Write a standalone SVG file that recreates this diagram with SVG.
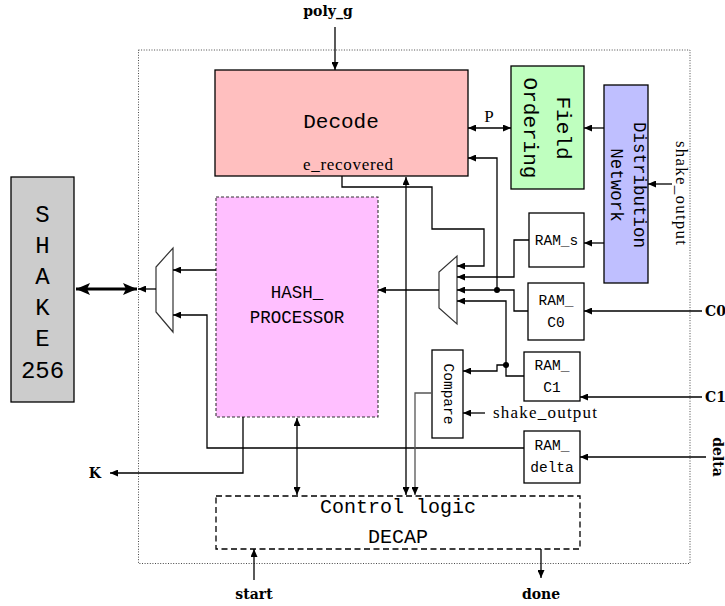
<svg xmlns="http://www.w3.org/2000/svg" width="725" height="606" viewBox="0 0 725 606">
  <style>
    .blk { stroke: #000; stroke-width: 1.3; fill: none; }
    .gry { stroke: #555; stroke-width: 1.3; fill: none; }
    .box { stroke: #000; stroke-width: 1.3; }
    .mono { font-family: "Liberation Mono", "DejaVu Sans Mono", monospace; fill: #000; }
    .ser { font-family: "Liberation Serif", "DejaVu Serif", serif; fill: #000; }
    .bold { font-family: "DejaVu Serif", "Liberation Serif", serif; font-weight: bold; fill: #000; font-size: 14px; }
    .mux { stroke: #333; stroke-width: 1.2; fill: #fff; }
  </style>
  <defs>
    <marker id="ah" markerUnits="userSpaceOnUse" markerWidth="8" markerHeight="7" refX="8" refY="3.5" orient="auto-start-reverse">
      <path d="M0,0 L8,3.5 L0,7 z" fill="#000"/>
    </marker>
    <marker id="big" markerUnits="userSpaceOnUse" markerWidth="14" markerHeight="12" refX="14" refY="6" orient="auto-start-reverse">
      <path d="M0,0 L14,6 L0,12 L3,6 z" fill="#000"/>
    </marker>
  </defs>

  <!-- enclosing decapsulation module boundary -->
  <rect x="138.5" y="50" width="551.5" height="513.5" fill="none" stroke="#333" stroke-width="0.9" stroke-dasharray="1,1.6"/>

  <g id="shake256">
    <rect x="11" y="177" width="63" height="225" fill="#cccccc" class="box"/>
    <g class="mono" font-size="24" text-anchor="middle">
      <text x="42.5" y="222">S</text>
      <text x="42.5" y="253">H</text>
      <text x="42.5" y="284">A</text>
      <text x="42.5" y="315">K</text>
      <text x="42.5" y="346">E</text>
      <text x="42.5" y="378">256</text>
    </g>
  </g>

  <g id="decode">
    <rect x="215" y="70" width="253" height="106" fill="#ffbfbf" class="box"/>
    <text x="341" y="128" class="mono" font-size="21" text-anchor="middle">Decode</text>
    <text x="348" y="170" class="ser" font-size="17" text-anchor="middle" textLength="90" lengthAdjust="spacing">e_recovered</text>
  </g>

  <g id="field-ordering">
    <rect x="511" y="66" width="73" height="123" fill="#bfffbf" class="box"/>
    <text transform="translate(557,128) rotate(90)" class="mono" font-size="21" text-anchor="middle">Field</text>
    <text transform="translate(524,128) rotate(90)" class="mono" font-size="21" text-anchor="middle">Ordering</text>
  </g>

  <g id="distribution-network">
    <rect x="604" y="85" width="44" height="198" fill="#bfbfff" class="box"/>
    <text transform="translate(634,185) rotate(90)" class="mono" font-size="17.5" text-anchor="middle">Distribution</text>
    <text transform="translate(611,185) rotate(90)" class="mono" font-size="17.5" text-anchor="middle">Network</text>
  </g>

  <g id="hash-processor">
    <rect x="216" y="197" width="162" height="220" fill="#ffbfff" stroke="#333" stroke-width="1.1" stroke-dasharray="3,2"/>
    <g class="mono" font-size="17.5" text-anchor="middle">
      <text x="297" y="298">HASH_</text>
      <text x="297" y="323">PROCESSOR</text>
    </g>
  </g>

  <g id="ram-s">
    <rect x="529" y="213" width="55" height="54" fill="#fff" class="box"/>
    <text x="556.5" y="245" class="mono" font-size="14.5" text-anchor="middle">RAM_s</text>
  </g>

  <g id="ram-c0">
    <rect x="528" y="283" width="56" height="57" fill="#fff" class="box"/>
    <g class="mono" font-size="14.5" text-anchor="middle">
      <text x="556" y="305">RAM_</text>
      <text x="556" y="327">C0</text>
    </g>
  </g>

  <g id="ram-c1">
    <rect x="524" y="352" width="56" height="49" fill="#fff" class="box"/>
    <g class="mono" font-size="14.5" text-anchor="middle">
      <text x="552" y="370">RAM_</text>
      <text x="552" y="392">C1</text>
    </g>
  </g>

  <g id="ram-delta">
    <rect x="524" y="431" width="56" height="52" fill="#fff" class="box"/>
    <g class="mono" font-size="14.5" text-anchor="middle">
      <text x="552" y="450">RAM_</text>
      <text x="552" y="472">delta</text>
    </g>
  </g>

  <g id="compare">
    <rect x="432" y="350" width="31" height="88" fill="#fff" class="box"/>
    <text transform="translate(444,394) rotate(90)" class="mono" font-size="14.5" text-anchor="middle">Compare</text>
  </g>

  <g id="control-logic">
    <rect x="216" y="496" width="364" height="53" fill="none" stroke="#000" stroke-width="1.3" stroke-dasharray="6,3.5"/>
    <g class="mono" font-size="20" text-anchor="middle">
      <text x="398" y="513">Control logic</text>
      <text x="398" y="543">DECAP</text>
    </g>
  </g>

  <g id="mux-left">
    <polygon points="173,248 173,332 156,312 156,267" class="mux"/>
  </g>

  <g id="mux-right">
    <polygon points="457,256 457,324 439,308 439,272" class="mux"/>
  </g>

  <g id="connectors">
    <!-- external inputs / outputs -->
    <line x1="335" y1="27" x2="335" y2="70" class="blk" marker-end="url(#ah)"/>
    <line x1="702" y1="311" x2="584" y2="311" class="blk" marker-end="url(#ah)"/>
    <line x1="702" y1="397" x2="580" y2="397" class="blk" marker-end="url(#ah)"/>
    <line x1="706" y1="457" x2="580" y2="457" class="blk" marker-end="url(#ah)"/>
    <line x1="672" y1="184" x2="648" y2="184" class="blk" marker-end="url(#ah)"/>
    <line x1="485" y1="413" x2="463" y2="413" class="blk" marker-end="url(#ah)"/>
    <line x1="254" y1="580" x2="254" y2="549" class="blk" marker-end="url(#ah)"/>
    <line x1="541" y1="549" x2="541" y2="578" class="blk" marker-end="url(#ah)"/>
    <polyline points="243,417 243,473 110,473" class="blk" marker-end="url(#ah)"/>

    <!-- Decode / Field Ordering / Distribution Network -->
    <line x1="468" y1="128" x2="511" y2="128" class="blk" marker-start="url(#ah)" marker-end="url(#ah)"/>
    <line x1="604" y1="128" x2="584" y2="128" class="blk" marker-end="url(#ah)"/>
    <line x1="604" y1="243" x2="584" y2="243" class="blk" marker-end="url(#ah)"/>

    <!-- feedback from RAM_C0 to Decode -->
    <polyline points="497,290 497,158 468,158" class="blk" marker-end="url(#ah)"/>
    <circle cx="497" cy="290" r="3" fill="#000"/>

    <!-- right multiplexer inputs -->
    <polyline points="342,176 342,187 432,187 432,229 484,229 484,266 457,266" class="blk" marker-end="url(#ah)"/>
    <polyline points="529,240 514,240 514,277 457,277" class="blk" marker-end="url(#ah)"/>
    <polyline points="528,311 514,311 514,290 457,290" class="blk" marker-end="url(#ah)"/>
    <polyline points="524,376 506,376 506,301 457,301" class="blk" marker-end="url(#ah)"/>
    <circle cx="506" cy="365" r="3" fill="#000"/>
    <polyline points="506,365 497,365 497,371 463,371" class="blk" marker-end="url(#ah)"/>

    <!-- right multiplexer output to hash processor -->
    <line x1="439" y1="290" x2="378" y2="290" class="blk" marker-end="url(#ah)"/>

    <!-- left multiplexer -->
    <line x1="216" y1="270" x2="173" y2="270" class="blk" marker-end="url(#ah)"/>
    <polyline points="524,448 207,448 207,315 173,315" class="blk" marker-end="url(#ah)"/>
    <line x1="156" y1="289" x2="138" y2="289" class="blk" marker-end="url(#ah)"/>
    <line x1="76" y1="289" x2="137" y2="289" stroke="#000" stroke-width="3.2" marker-start="url(#big)" marker-end="url(#big)"/>

    <!-- control logic links -->
    <line x1="406" y1="177" x2="406" y2="495" class="blk" marker-start="url(#ah)" marker-end="url(#ah)"/>
    <polyline points="432,393 415,393 415,495" class="gry" marker-end="url(#ah)"/>
    <line x1="297" y1="418" x2="297" y2="495" class="blk" marker-start="url(#ah)" marker-end="url(#ah)"/>
  </g>

  <!-- signal labels -->
  <text x="328" y="16" class="bold" text-anchor="middle">poly_g</text>
  <text x="489" y="122" class="ser" font-size="17" text-anchor="middle">P</text>
  <text transform="translate(676,193) rotate(90)" class="ser" font-size="17" text-anchor="middle" textLength="104" lengthAdjust="spacing">shake_output</text>
  <text x="493" y="418" class="ser" font-size="17" textLength="104" lengthAdjust="spacing">shake_output</text>
  <text x="705" y="316" class="bold">C0</text>
  <text x="705" y="402" class="bold">C1</text>
  <text transform="translate(713,457) rotate(90)" class="bold" text-anchor="middle">delta</text>
  <text x="101" y="478" class="bold" text-anchor="end">K</text>
  <text x="254" y="599" class="bold" text-anchor="middle">start</text>
  <text x="541" y="599" class="bold" text-anchor="middle">done</text>
</svg>
